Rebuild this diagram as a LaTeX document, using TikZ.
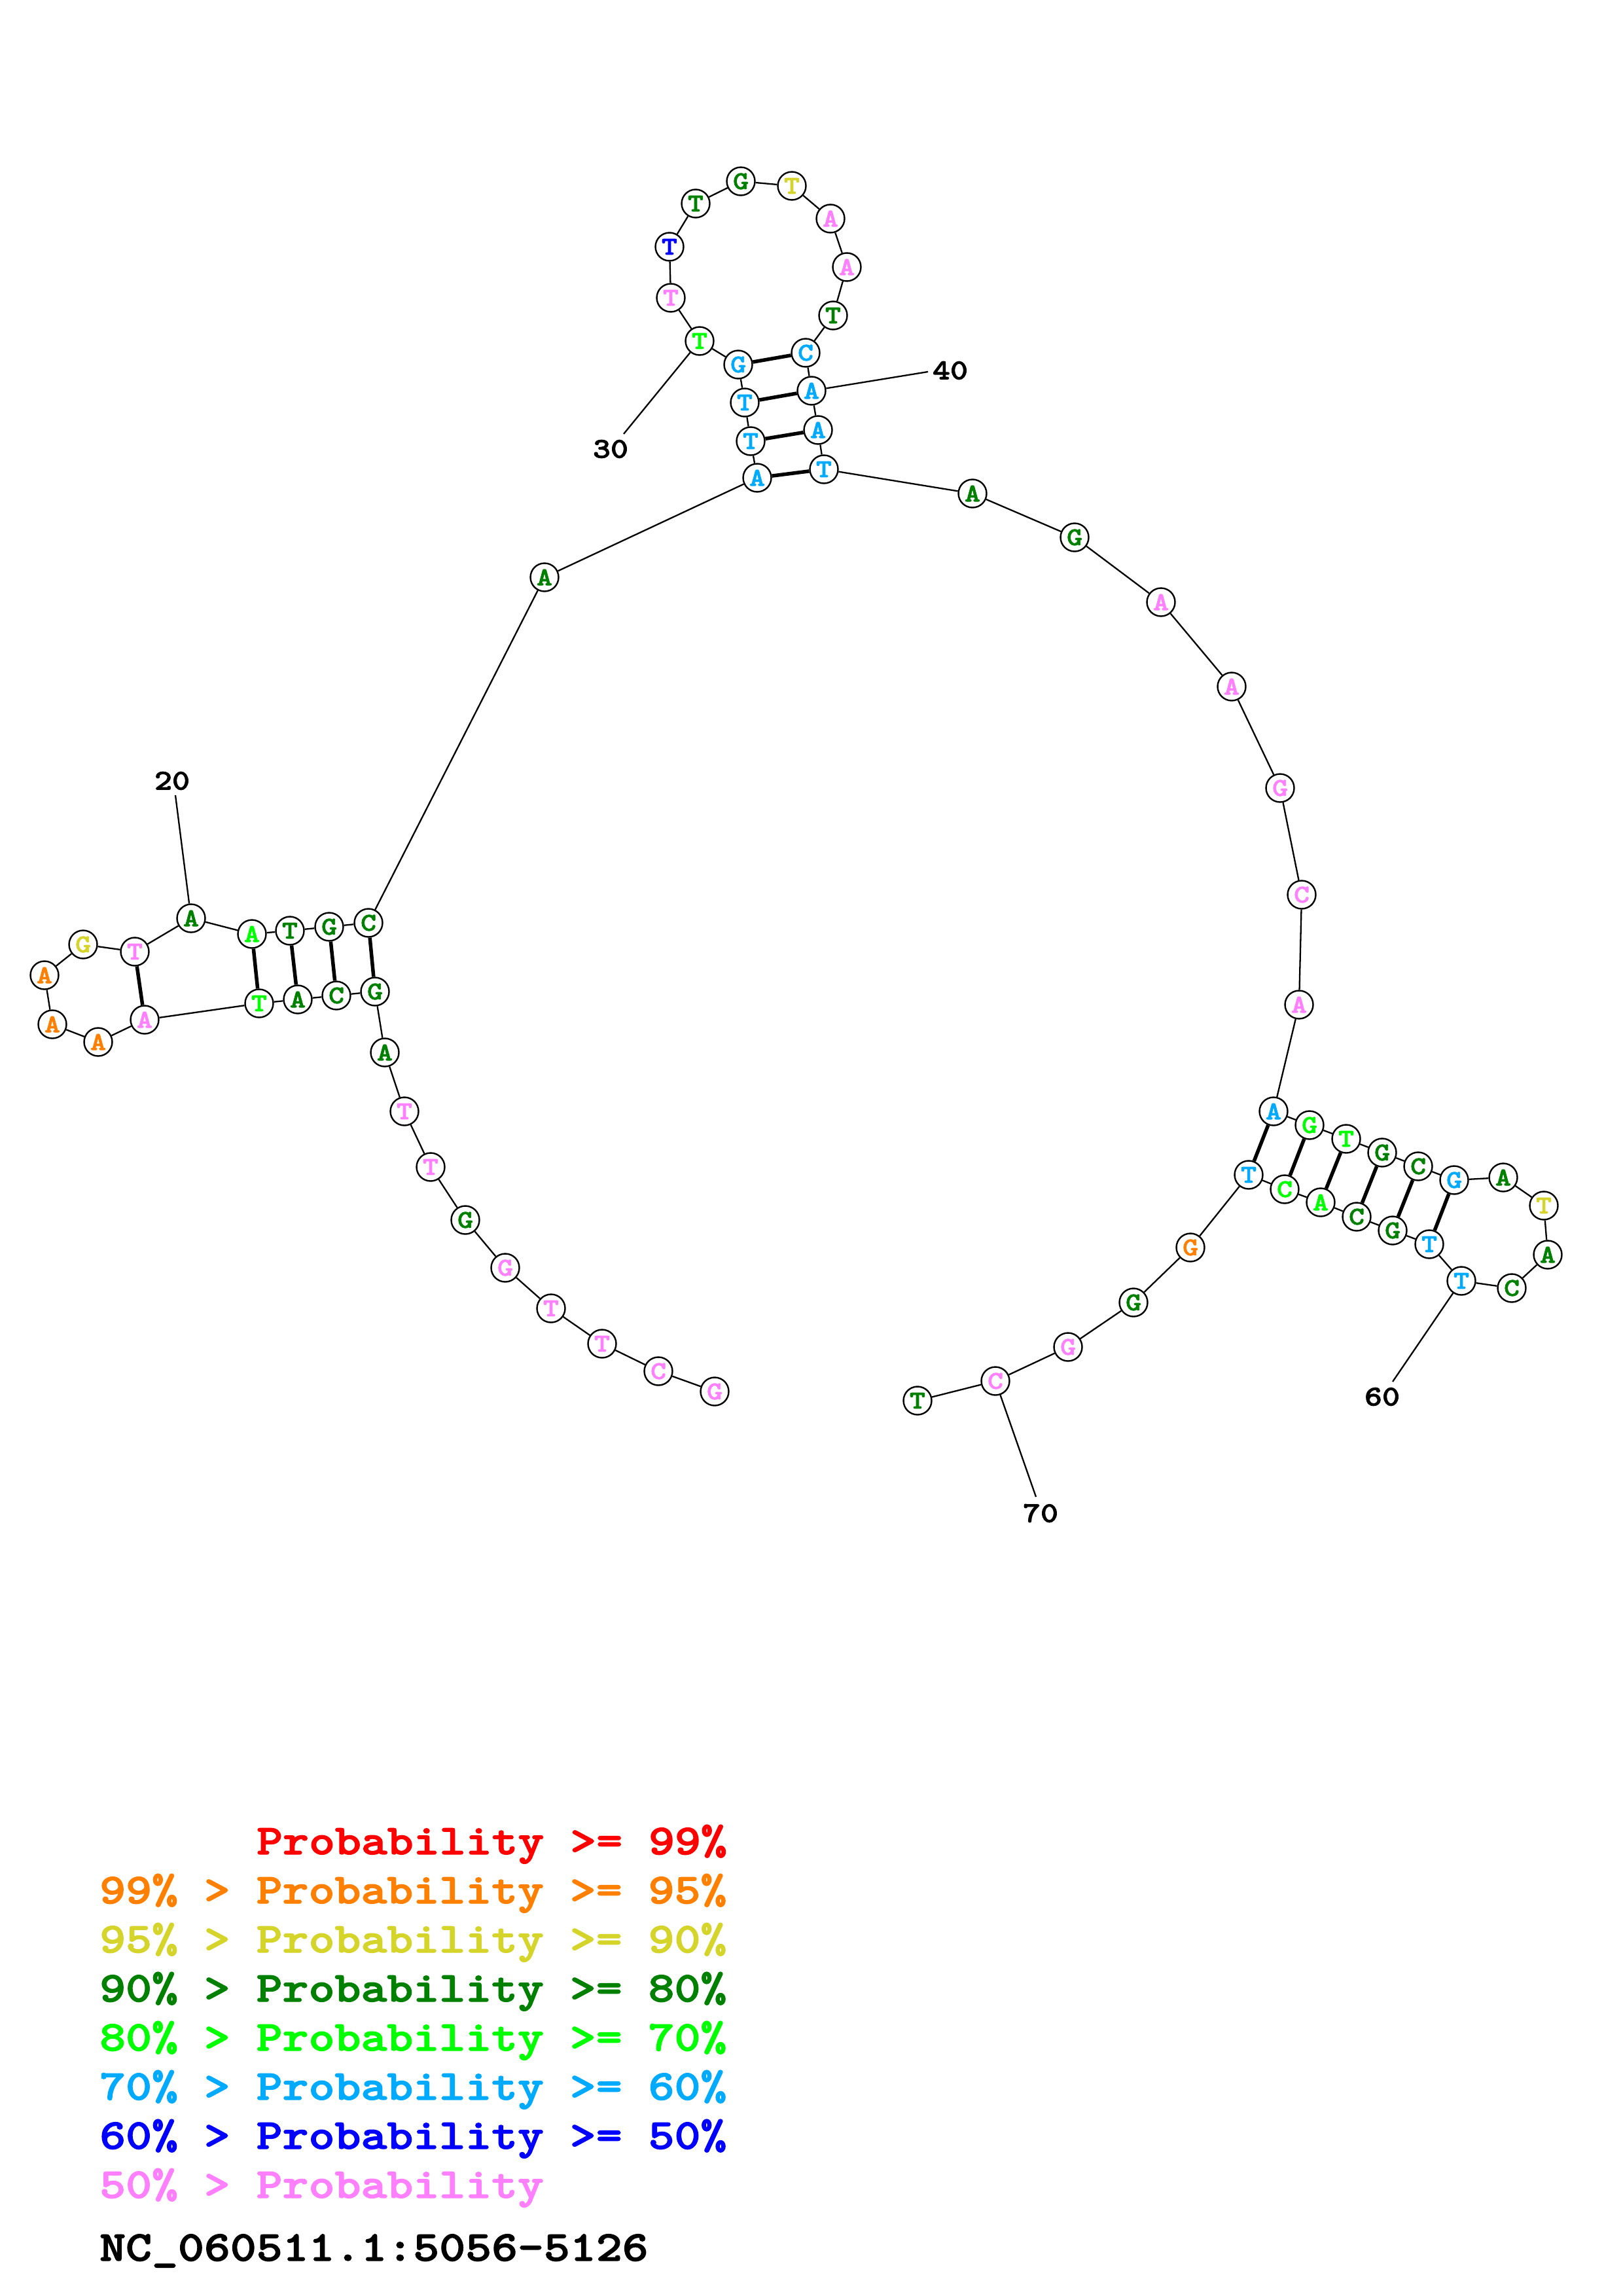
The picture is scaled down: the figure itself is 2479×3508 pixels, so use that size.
\documentclass[tikz,border=0pt]{standalone}
\usepackage{fontspec}
\newfontfamily\cour{lmmonolt10-bold.otf}[FakeStretch=1.17,FakeBold=2]
\definecolor{cR}{RGB}{255,0,0}
\definecolor{cO}{RGB}{255,128,0}
\definecolor{cY}{RGB}{212,212,42}
\definecolor{cDG}{RGB}{0,128,0}
\definecolor{cG}{RGB}{0,255,0}
\definecolor{cLB}{RGB}{0,170,255}
\definecolor{cB}{RGB}{0,0,255}
\definecolor{cP}{RGB}{255,128,255}
\begin{document}
\begin{tikzpicture}[x=1pt,y=-1pt,
  nt/.style={circle,draw=black,line width=2.4pt,fill=white,minimum size=43pt,inner sep=0pt,font=\cour\fontsize{39}{39}\selectfont},
  bb/.style={line width=2.3pt},
  bp/.style={line width=5.5pt},
  lab/.style={font=\cour\fontsize{44}{44}\selectfont,inner sep=0pt},
  leg/.style={anchor=base west,inner sep=0pt,font=\cour\fontsize{65}{65}\selectfont}]
\useasboundingbox[fill=white] (0,0) rectangle (2479,3508);
% nucleotides
\foreach \n/\b/\c/\x/\y in {
1/G/cP/1092/2126, 2/C/cP/1006/2095, 3/T/cP/920/2053, 4/T/cP/842/1999,
5/G/cP/772/1937, 6/G/cDG/711/1864, 7/T/cP/658/1783, 8/T/cP/618/1698,
9/A/cDG/588/1608, 10/G/cDG/573/1515, 11/C/cDG/514/1521, 12/A/cDG/455/1527,
13/T/cG/396/1533, 14/A/cP/221/1558, 15/A/cO/150/1592, 16/A/cO/80/1565,
17/A/cO/68/1490, 18/G/cY/127/1443, 19/T/cP/206/1454, 20/A/cDG/292/1403,
21/A/cG/385/1427, 22/T/cDG/443/1422, 23/G/cDG/503/1416, 24/C/cDG/563/1410,
25/A/cDG/832/882, 26/A/cLB/1157/730, 27/T/cLB/1147/674, 28/T/cLB/1138/615,
29/G/cLB/1128/557, 30/T/cG/1069/521, 31/T/cP/1025/455, 32/T/cB/1023/377,
33/T/cDG/1063/311, 34/G/cDG/1132/277, 35/T/cY/1210/284, 36/A/cP/1269/334,
37/A/cP/1294/408, 38/T/cDG/1273/482, 39/C/cLB/1231/539, 40/A/cLB/1240/597,
41/A/cLB/1250/657, 42/T/cLB/1259/717, 43/A/cDG/1486/754, 44/G/cDG/1642/821,
45/A/cP/1774/920, 46/A/cP/1882/1049, 47/G/cP/1956/1204, 48/C/cP/1989/1367,
49/A/cP/1985/1535, 50/A/cLB/1946/1698, 51/G/cG/2001/1719, 52/T/cG/2057/1740,
53/G/cDG/2112/1761, 54/C/cDG/2167/1782, 55/G/cLB/2222/1803, 56/A/cDG/2297/1799,
57/T/cY/2359/1842, 58/A/cDG/2365/1917, 59/C/cDG/2310/1968, 60/T/cLB/2233/1957,
61/T/cLB/2184/1901, 62/G/cDG/2128/1880, 63/C/cDG/2073/1859, 64/A/cG/2018/1837,
65/C/cG/1963/1817, 66/T/cLB/1908/1795, 67/G/cO/1819/1906, 68/G/cDG/1732/1990,
69/G/cP/1632/2058, 70/C/cP/1521/2110, 71/T/cDG/1402/2140}
  \node[nt,text=\c] (n\n) at (\x,\y) {\b};
% backbone
\foreach \i [evaluate=\i as \j using int(\i+1)] in {1,...,70}
  \draw[bb] (n\i) -- (n\j);
% base pairs
\foreach \a/\b in {10/24,11/23,12/22,13/21,14/19,26/42,27/41,28/40,29/39,
  50/66,51/65,52/64,53/63,54/62,55/61}
  \draw[bp] (n\a) -- (n\b);
% numbering
\coordinate (e20) at (268,1215); \node[lab] (t20) at (263,1193) {20};
\coordinate (e30) at (953,663);  \node[lab] (t30) at (933,686) {30};
\coordinate (e40) at (1418,568); \node[lab] (t40) at (1452,566) {40};
\coordinate (e60) at (2128,2111); \node[lab] (t60) at (2112,2134) {60};
\coordinate (e70) at (1583,2287); \node[lab] (t70) at (1590,2312) {70};
\draw[bb] (n20) -- (e20);
\draw[bb] (n30) -- (e30);
\draw[bb] (n40) -- (e40);
\draw[bb] (n60) -- (e60);
\draw[bb] (n70) -- (e70);
% legend
\node[leg,text=cR]  (l1) at (392,2833) {Probability >= 99\%};
\node[leg,text=cO]  (l2) at (152,2908) {99\% > Probability >= 95\%};
\node[leg,text=cY]  (l3) at (152,2983) {95\% > Probability >= 90\%};
\node[leg,text=cDG] (l4) at (152,3058) {90\% > Probability >= 80\%};
\node[leg,text=cG]  (l5) at (152,3133) {80\% > Probability >= 70\%};
\node[leg,text=cLB] (l6) at (152,3208) {70\% > Probability >= 60\%};
\node[leg,text=cB]  (l7) at (152,3283) {60\% > Probability >= 50\%};
\node[leg,text=cP]  (l8) at (152,3358) {50\% > Probability};
\node[leg,text=black] (title) at (152,3454) {NC\_060511.1:5056-5126};
\end{tikzpicture}
\end{document}
